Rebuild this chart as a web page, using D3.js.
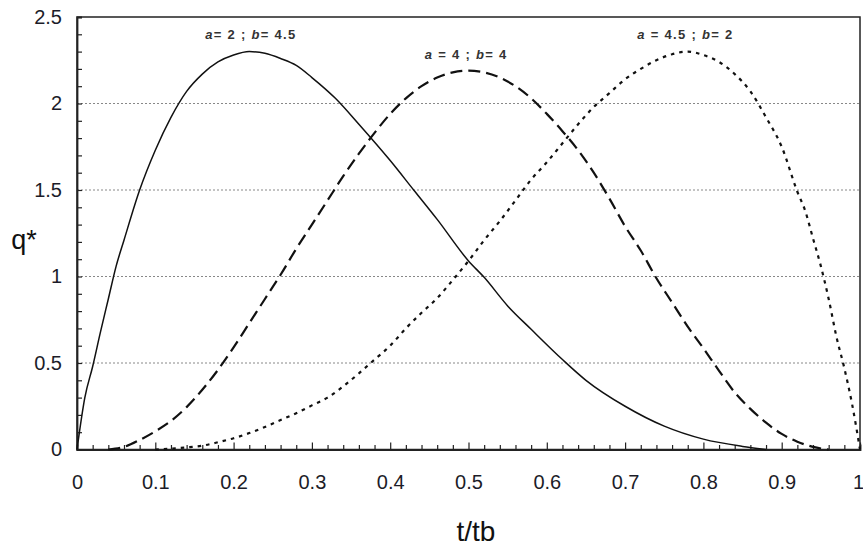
<!DOCTYPE html>
<html><head><meta charset="utf-8">
<script src="https://cdn.jsdelivr.net/npm/d3@7"></script>
<style>
body{margin:0;background:#fff;}
svg{display:block;font-family:"Liberation Sans",Arial,sans-serif;}
</style></head>
<body><svg id="chart" width="863" height="547"></svg>
<script>
// Data
const xTicks = [0,0.1,0.2,0.3,0.4,0.5,0.6,0.7,0.8,0.9,1];
const xTickLabels = ["0","0.1","0.2","0.3","0.4","0.5","0.6","0.7","0.8","0.9","1"];
const yTicks = [0,0.5,1,1.5,2,2.5];
const yTickLabels = ["0","0.5","1","1.5","2","2.5"];
const gridValues = [0.5,1,1.5,2];

// a = 2 ; b = 4.5 (solid)
const s1t = [0,0.01,0.02,0.03,0.04,0.05,0.06,0.08,0.10,0.12,0.14,0.16,0.18,0.20,0.22,0.24,0.26,0.28,0.30,0.33,0.36,0.40,0.43,0.46,0.50,0.52,0.55,0.58,0.62,0.65,0.70,0.75,0.80,0.85,0.88];
const s1q = [0,0.30,0.48,0.68,0.87,1.06,1.21,1.50,1.73,1.92,2.07,2.17,2.24,2.28,2.30,2.29,2.26,2.22,2.15,2.03,1.88,1.67,1.50,1.33,1.09,0.995,0.83,0.695,0.52,0.40,0.25,0.135,0.06,0.018,0];

// a = 4 ; b = 4 (long dashes)
const s2t = [0.04,0.06,0.08,0.10,0.12,0.14,0.16,0.18,0.20,0.22,0.24,0.26,0.28,0.30,0.32,0.34,0.36,0.38,0.40,0.42,0.44,0.46,0.48,0.50,0.52,0.54,0.56,0.58,0.60,0.62,0.64,0.66,0.68,0.70,0.72,0.74,0.76,0.78,0.80,0.82,0.84,0.86,0.88,0.90,0.92,0.94,0.96];
const s2q = [0,0.015,0.055,0.105,0.165,0.245,0.345,0.46,0.59,0.73,0.87,1.01,1.16,1.30,1.44,1.58,1.71,1.83,1.94,2.03,2.10,2.15,2.18,2.19,2.18,2.15,2.10,2.03,1.94,1.84,1.73,1.60,1.45,1.29,1.15,0.99,0.85,0.71,0.585,0.455,0.33,0.235,0.155,0.09,0.045,0.015,0];

// a = 4.5 ; b = 2 (short dashes)
const s3t = [0.10,0.12,0.14,0.16,0.18,0.20,0.22,0.24,0.26,0.28,0.30,0.32,0.34,0.36,0.38,0.40,0.42,0.44,0.46,0.48,0.50,0.52,0.54,0.56,0.58,0.60,0.62,0.64,0.66,0.68,0.70,0.72,0.74,0.76,0.78,0.80,0.82,0.84,0.86,0.88,0.90,0.92,0.93,0.94,0.95,0.96,0.97,0.98,0.99,1.0];
const s3q = [0,0.005,0.012,0.022,0.042,0.065,0.095,0.13,0.17,0.21,0.255,0.30,0.365,0.44,0.52,0.60,0.70,0.79,0.875,0.98,1.09,1.21,1.32,1.44,1.56,1.66,1.77,1.88,1.98,2.06,2.14,2.20,2.25,2.285,2.30,2.28,2.24,2.17,2.07,1.92,1.75,1.49,1.38,1.22,1.06,0.87,0.65,0.47,0.26,0];

const seriesNames = ["a=2;b=4.5","a=4;b=4","a=4.5;b=2"];
const annoParts = [
  ["a","= 2 ; ","b","= 4.5"],
  ["a"," = 4 ; ","b","= 4"],
  ["a"," = 4.5 ; ","b","= 2"]
];
const annoT = [0.222, 0.497, 0.777];
const annoQ = [2.375, 2.26, 2.375];

const svg = d3.select("#chart");
const L=77, R=860, T=17, B=449.5;
const x = d3.scaleLinear().domain([0,1]).range([L,R]);
const y = d3.scaleLinear().domain([0,2.5]).range([B,T]);

// grid
svg.append("g").selectAll("line").data(gridValues).join("line")
  .attr("x1",L).attr("x2",R).attr("y1",d=>y(d)).attr("y2",d=>y(d))
  .attr("stroke","#888").attr("stroke-width",1).attr("stroke-dasharray","2,2");

// frame
svg.append("rect").attr("x",L).attr("y",T).attr("width",R-L).attr("height",B-T)
  .attr("fill","none").attr("stroke","#222").attr("stroke-width",1.5);

// x axis ticks (inside)
const gx = svg.append("g").attr("transform",`translate(0,${B})`)
  .call(d3.axisBottom(x).tickValues(d3.range(0,1.0001,0.02)).tickSize(-5).tickFormat(""));
gx.select(".domain").attr("stroke","#222").attr("stroke-width",1.8);
gx.selectAll(".tick line").attr("stroke","#222").attr("stroke-width",1.2)
  .attr("y2",d=>Math.abs(Math.round(d*10)-d*10)<1e-6 ? -7 : -4.5);

const gxl = svg.append("g").attr("transform",`translate(0,${B})`)
  .call(d3.axisBottom(x).tickValues(xTicks).tickSize(0).tickPadding(25).tickFormat((d,i)=>xTickLabels[i]));
gxl.select(".domain").remove();
gxl.selectAll("text").attr("font-size",20).attr("fill","#1c1c28").attr("font-family","Liberation Sans, Arial, sans-serif");
gxl.selectAll(".tick").filter(d=>d===1).select("text").attr("dx",-2);

// y axis ticks (inside)
const gy = svg.append("g").attr("transform",`translate(${L},0)`)
  .call(d3.axisLeft(y).tickValues(d3.range(0,2.5001,0.1)).tickSize(-5).tickFormat(""));
gy.select(".domain").attr("stroke","#222").attr("stroke-width",1.8);
gy.selectAll(".tick line").attr("stroke","#222").attr("stroke-width",1.2);

const gyl = svg.append("g").attr("transform",`translate(${L},0)`)
  .call(d3.axisLeft(y).tickValues(yTicks).tickSize(0).tickPadding(15).tickFormat((d,i)=>yTickLabels[i]));
gyl.select(".domain").remove();
gyl.selectAll("text").attr("font-size",20).attr("fill","#1c1c28").attr("font-family","Liberation Sans, Arial, sans-serif");

// curves
const line = d3.line().x(d=>x(d[0])).y(d=>y(d[1])).curve(d3.curveMonotoneX);
const series = [
  {t:s1t,q:s1q,dash:null,w:1.5},
  {t:s2t,q:s2q,dash:"12,6",w:2.2},
  {t:s3t,q:s3q,dash:"3.5,5",w:2.2}
];
series.forEach((s,i)=>{
  const pts = s.t.map((t,j)=>[t,s.q[j]]);
  svg.append("path").datum(pts).attr("d",line)
    .attr("fill","none").attr("stroke","#111").attr("stroke-width",s.w)
    .attr("stroke-dasharray",s.dash).attr("class","series").attr("data-name",seriesNames[i]);
});

// annotations
annoParts.forEach((parts,i)=>{
  const t = svg.append("text").attr("x",x(annoT[i])).attr("y",y(annoQ[i]))
    .attr("text-anchor","middle").attr("font-size",13).attr("font-weight","bold")
    .attr("fill","#333").attr("letter-spacing","1.3px");
  parts.forEach((p,k)=>{
    const ts = t.append("tspan").text(p);
    if (k%2===0) ts.attr("font-style","italic");
  });
});

// axis titles
svg.append("text").attr("x",24).attr("y",249).attr("text-anchor","middle")
  .attr("font-size",27).attr("fill","#111").text("q*");
svg.append("text").attr("x",476).attr("y",541).attr("text-anchor","middle")
  .attr("font-size",28).attr("fill","#111").text("t/tb");
</script></body></html>
